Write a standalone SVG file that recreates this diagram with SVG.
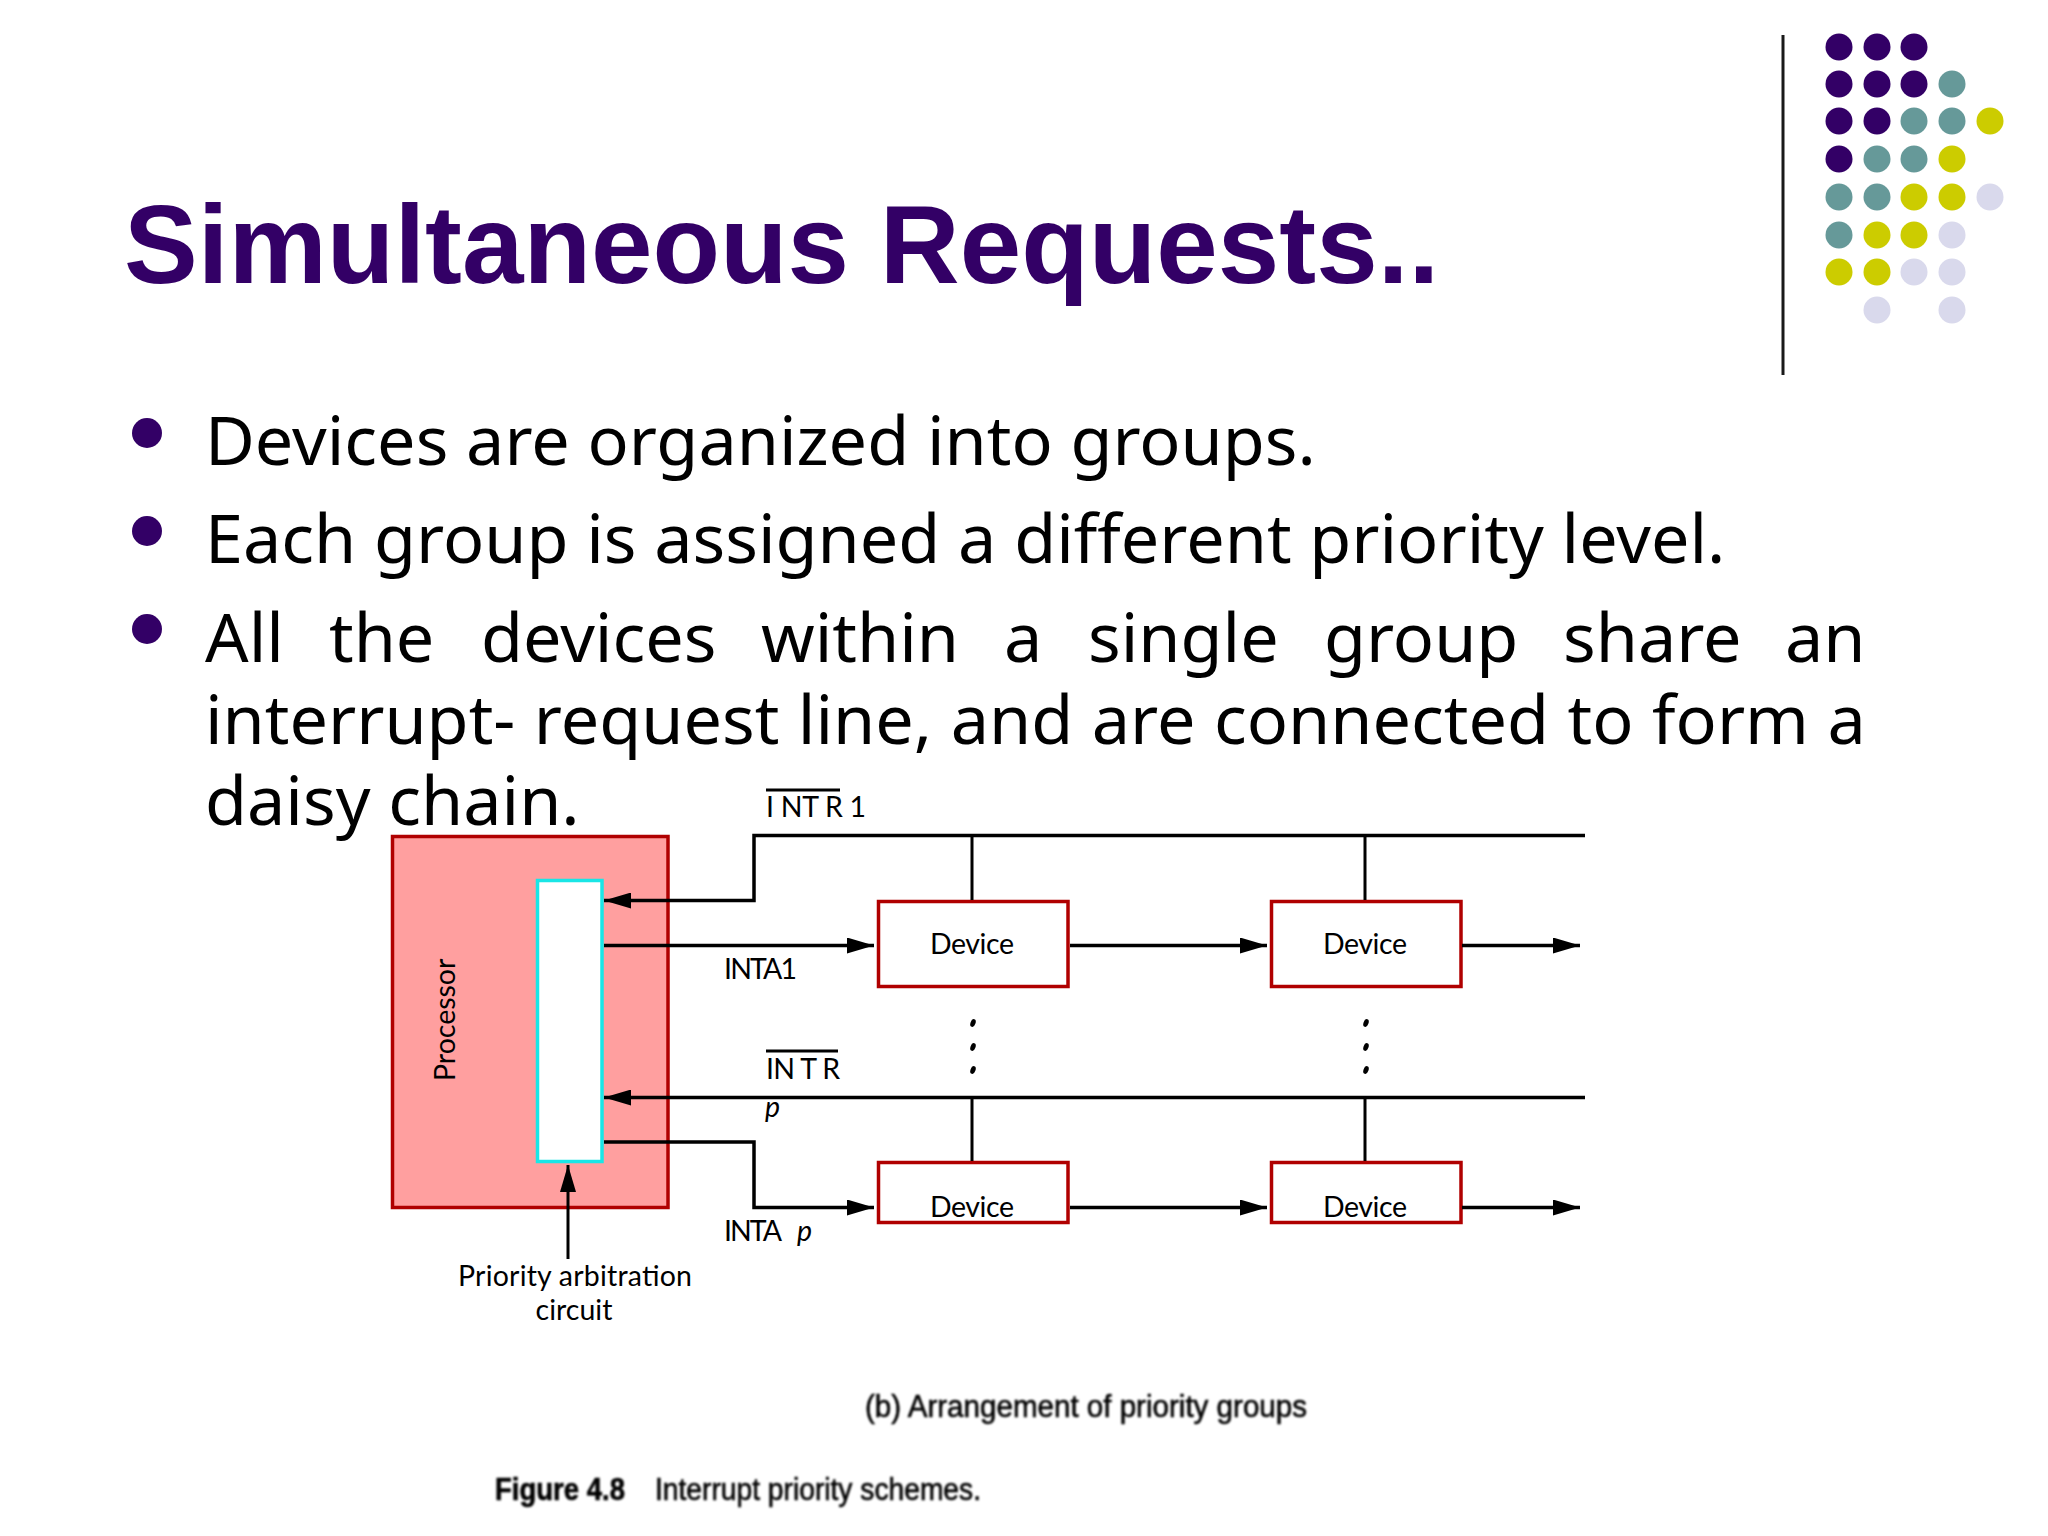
<svg xmlns="http://www.w3.org/2000/svg" width="2048" height="1536" viewBox="0 0 2048 1536">
<style>
.body{font-family:"Noto Sans","Open Sans",sans-serif;font-size:68.3px;fill:#000}
.lab{font-family:Lato,"Liberation Sans",sans-serif;font-size:28.5px;fill:#000}
.box{fill:#fff;stroke:#b00000;stroke-width:3.5}
.w{fill:none;stroke:#000;stroke-width:3.5}
.t{fill:none;stroke:#000;stroke-width:3}
.scan{font-family:"Liberation Sans",sans-serif;font-size:31px;fill:#000;stroke:#000;stroke-width:.6}
.p{fill:#330066}.g{fill:#669999}.y{fill:#cccc00}.l{fill:#d9d9ec}
</style>
<defs>
<marker id="ah" markerUnits="userSpaceOnUse" markerWidth="28" markerHeight="16" refX="27" refY="8" orient="auto"><path d="M0 0L27 8L0 16Z" fill="#000"/></marker>
<filter id="soft" x="-5%" y="-20%" width="110%" height="140%"><feGaussianBlur stdDeviation="0.8"/></filter>
</defs>
<rect width="2048" height="1536" fill="#fff"/>
<text id="title" x="124" y="283" font-family="'Liberation Sans',sans-serif" font-weight="700" font-size="110.6" fill="#330066">Simultaneous Requests..</text>
<path d="M1783 35V375" stroke="#1a1a1a" stroke-width="3" fill="none"/>
<g id="dots">
<circle class="p" cx="1839" cy="47" r="13.5"/><circle class="p" cx="1877" cy="47" r="13.5"/><circle class="p" cx="1914" cy="47" r="13.5"/>
<circle class="p" cx="1839" cy="84" r="13.5"/><circle class="p" cx="1877" cy="84" r="13.5"/><circle class="p" cx="1914" cy="84" r="13.5"/><circle class="g" cx="1952" cy="84" r="13.5"/>
<circle class="p" cx="1839" cy="121" r="13.5"/><circle class="p" cx="1877" cy="121" r="13.5"/><circle class="g" cx="1914" cy="121" r="13.5"/><circle class="g" cx="1952" cy="121" r="13.5"/><circle class="y" cx="1990" cy="121" r="13.5"/>
<circle class="p" cx="1839" cy="159" r="13.5"/><circle class="g" cx="1877" cy="159" r="13.5"/><circle class="g" cx="1914" cy="159" r="13.5"/><circle class="y" cx="1952" cy="159" r="13.5"/>
<circle class="g" cx="1839" cy="197" r="13.5"/><circle class="g" cx="1877" cy="197" r="13.5"/><circle class="y" cx="1914" cy="197" r="13.5"/><circle class="y" cx="1952" cy="197" r="13.5"/><circle class="l" cx="1990" cy="197" r="13.5"/>
<circle class="g" cx="1839" cy="235" r="13.5"/><circle class="y" cx="1877" cy="235" r="13.5"/><circle class="y" cx="1914" cy="235" r="13.5"/><circle class="l" cx="1952" cy="235" r="13.5"/>
<circle class="y" cx="1839" cy="272" r="13.5"/><circle class="y" cx="1877" cy="272" r="13.5"/><circle class="l" cx="1914" cy="272" r="13.5"/><circle class="l" cx="1952" cy="272" r="13.5"/>
<circle class="l" cx="1877" cy="310" r="13.5"/><circle class="l" cx="1952" cy="310" r="13.5"/>
</g>
<g id="bullets">
<circle class="p" cx="147" cy="433" r="15"/><circle class="p" cx="147" cy="531" r="15"/><circle class="p" cx="147" cy="629" r="15"/>
<text class="body" x="205" y="465">Devices are organized into groups.</text>
<text class="body" x="205" y="563">Each group is assigned a different priority level.</text>
<text class="body" y="662"><tspan x="205">All</tspan><tspan x="329">the</tspan><tspan x="481">devices</tspan><tspan x="761">within</tspan><tspan x="1004">a</tspan><tspan x="1088">single</tspan><tspan x="1324">group</tspan><tspan x="1563">share</tspan><tspan x="1785">an</tspan></text>
<text class="body" x="205" y="744" word-spacing="0.8">interrupt- request line, and are connected to form a</text>
<text class="body" x="205" y="825">daisy chain.</text>
</g>
<g id="processor"><rect x="392.5" y="836.5" width="275.5" height="371" fill="#ff9f9f" stroke="#b00000" stroke-width="3.5"/>
<text class="lab" transform="translate(455 1081) rotate(-90)">Processor</text></g>
<g id="arbiter"><rect x="537.5" y="880.5" width="64.5" height="281" fill="#fff" stroke="#19e6e6" stroke-width="3.5"/></g>
<g id="device-1-1"><rect class="box" x="878.5" y="901.5" width="189.5" height="85"/><text class="lab" x="972" y="954" text-anchor="middle" textLength="84">Device</text></g>
<g id="device-1-2"><rect class="box" x="1271.5" y="901.5" width="189.5" height="85"/><text class="lab" x="1365" y="954" text-anchor="middle" textLength="84">Device</text></g>
<g id="device-2-1"><rect class="box" x="878.5" y="1162.5" width="189.5" height="60"/><text class="lab" x="972" y="1217" text-anchor="middle" textLength="84">Device</text></g>
<g id="device-2-2"><rect class="box" x="1271.5" y="1162.5" width="189.5" height="60"/><text class="lab" x="1365" y="1217" text-anchor="middle" textLength="84">Device</text></g>
<g id="connectors">
<path class="w" d="M1585 835.5H754V900.5H604" marker-end="url(#ah)"/>
<path class="w" d="M604 945.5H874" marker-end="url(#ah)"/>
<path class="w" d="M1070 945.5H1267" marker-end="url(#ah)"/>
<path class="w" d="M1462 945.5H1580" marker-end="url(#ah)"/>
<path class="w" d="M1585 1097.5H604" marker-end="url(#ah)"/>
<path class="w" d="M604 1142H754V1207.5H874" marker-end="url(#ah)"/>
<path class="w" d="M1070 1207.5H1267" marker-end="url(#ah)"/>
<path class="w" d="M1462 1207.5H1580" marker-end="url(#ah)"/>
<path class="t" d="M972 835V900M1365 835V900M972 1097V1161M1365 1097V1161"/>
<path class="t" d="M568 1259V1165" marker-end="url(#ah)"/>
<path class="t" d="M766 790H840M766 1051H838"/>
</g>
<g id="ellipsis" fill="#000">
<ellipse cx="973" cy="1023" rx="2.5" ry="4" transform="rotate(20 973 1023)"/><ellipse cx="973" cy="1047" rx="2.5" ry="4" transform="rotate(20 973 1047)"/><ellipse cx="973" cy="1070" rx="2.5" ry="4" transform="rotate(20 973 1070)"/>
<ellipse cx="1366" cy="1023" rx="2.5" ry="4" transform="rotate(20 1366 1023)"/><ellipse cx="1366" cy="1047" rx="2.5" ry="4" transform="rotate(20 1366 1047)"/><ellipse cx="1366" cy="1070" rx="2.5" ry="4" transform="rotate(20 1366 1070)"/>
</g>
<g id="labels">
<text class="lab" x="766" y="817" textLength="100">I NT R 1</text>
<text class="lab" x="724" y="979" textLength="73">INTA1</text>
<text class="lab" x="766" y="1079" textLength="74">IN T R</text>
<text class="lab" x="765" y="1117" font-style="italic">p</text>
<text class="lab" x="724" y="1241" textLength="58">INTA</text>
<text class="lab" x="797" y="1241" font-style="italic">p</text>
<text class="lab" x="575" y="1286" text-anchor="middle" textLength="234">Priority arbitration</text>
<text class="lab" x="574" y="1320" text-anchor="middle">circuit</text>
</g>
<g id="captions" filter="url(#soft)">
<text class="scan" x="865" y="1417" textLength="442" lengthAdjust="spacingAndGlyphs">(b) Arrangement of priority groups</text>
<text class="scan" x="495" y="1500" font-weight="700" textLength="130" lengthAdjust="spacingAndGlyphs">Figure 4.8</text>
<text class="scan" x="655" y="1500" textLength="326" lengthAdjust="spacingAndGlyphs">Interrupt priority schemes.</text>
</g>
</svg>
